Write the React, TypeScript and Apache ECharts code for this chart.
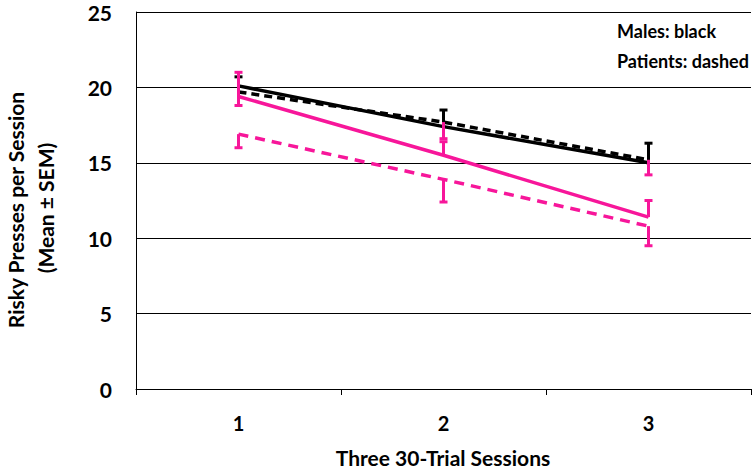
import React, { useEffect, useRef } from "react";
import * as echarts from "echarts";

const sessions = ["1", "2", "3"];
const yTicks = [0, 5, 10, 15, 20, 25];

// Means
const malesControl = [20.1, 17.4, 15.0]; // black solid
const malesPatients = [19.7, 17.7, 15.2]; // black dashed
const femalesControl = [19.4, 15.5, 11.4]; // pink solid
const femalesPatients = [16.9, 13.9, 10.8]; // pink dashed

// SEM (one-sided bars, as drawn)
const malesControlSem = [0.6, 1.1, 1.3]; // upward
const malesPatientsSem = [0.9, 1.1, 1.0]; // downward
const femalesControlSem = [1.6, 0.9, 1.1]; // upward
const femalesPatientsSem = [0.9, 1.5, 1.3]; // downward

const legendLines = ["Males: black", "Patients: dashed"];
const yTitle = ["Risky Presses per Session", "(Mean ± SEM)"];
const xTitle = "Three 30-Trial Sessions";

const BLACK = "#000000";
const PINK = "#f7169a";
const FONT = "Lato, 'Open Sans', sans-serif";

function barData(means: number[], sem: number[], dir: number) {
  return means.map((m, i) => [i, m, +(m + dir * sem[i]).toFixed(2)]);
}

function errorSeries(data: number[][], color: string, z: number) {
  return {
    type: "custom",
    z,
    data,
    renderItem: (params: any, api: any) => {
      const x = api.value(0);
      const from = api.coord([x, api.value(1)]);
      const to = api.coord([x, api.value(2)]);
      const cap = 4;
      return {
        type: "group",
        children: [
          {
            type: "line",
            shape: { x1: from[0], y1: from[1], x2: to[0], y2: to[1] },
            style: { stroke: color, lineWidth: 3 },
          },
          {
            type: "line",
            shape: { x1: to[0] - cap, y1: to[1], x2: to[0] + cap, y2: to[1] },
            style: { stroke: color, lineWidth: 3 },
          },
        ],
      };
    },
  };
}

function lineSeries(name: string, data: number[], color: string, dash: number[] | null, z: number) {
  return {
    name,
    type: "line",
    z,
    data,
    symbol: "none",
    lineStyle: {
      color,
      width: 3.5,
      type: dash ? dash : "solid",
    },
  };
}

export default function App() {
  const ref = useRef<HTMLDivElement>(null);
  useEffect(() => {
    document.body.style.margin = "0";
    const chart = echarts.init(ref.current!, null, { renderer: "svg" });
    chart.setOption({
      animation: false,
      backgroundColor: "#ffffff",
      grid: { left: 136, right: 2, top: 12, bottom: 81 },
      xAxis: {
        type: "category",
        data: sessions,
        boundaryGap: true,
        axisLine: { show: true, lineStyle: { color: "#000", width: 1 } },
        axisTick: { show: true, length: 6, lineStyle: { color: "#000", width: 1 } },
        axisLabel: {
          margin: 24,
          fontFamily: FONT,
          fontWeight: "bold",
          fontSize: 20,
          color: "#000",
        },
        splitLine: { show: false },
      },
      yAxis: {
        type: "value",
        min: yTicks[0],
        max: yTicks[yTicks.length - 1],
        interval: 5,
        axisLine: { show: true, lineStyle: { color: "#000", width: 1 } },
        axisTick: { show: false },
        axisLabel: {
          margin: 24,
          fontFamily: FONT,
          fontWeight: "bold",
          fontSize: 21,
          color: "#000",
        },
        splitLine: { show: true, lineStyle: { color: "#000", width: 1 } },
      },
      series: [
        lineSeries("Males control", malesControl, BLACK, null, 3),
        lineSeries("Males patients", malesPatients, BLACK, [8, 5], 3),
        errorSeries(barData(malesControl, malesControlSem, 1), BLACK, 4),
        errorSeries(barData(malesPatients, malesPatientsSem, -1), PINK, 4),
        lineSeries("Females control", femalesControl, PINK, null, 5),
        lineSeries("Females patients", femalesPatients, PINK, [10, 7], 5),
        errorSeries(barData(femalesControl, femalesControlSem, 1), PINK, 6),
        errorSeries(barData(femalesPatients, femalesPatientsSem, -1), PINK, 6),
      ],
      graphic: [
        {
          type: "text",
          x: 15,
          y: 210,
          rotation: Math.PI / 2,
          style: {
            text: yTitle[0],
            align: "center",
            verticalAlign: "middle",
            font: `bold 21px ${FONT}`,
            fill: "#000",
          },
        },
        {
          type: "text",
          x: 45,
          y: 208,
          rotation: Math.PI / 2,
          style: {
            text: yTitle[1],
            align: "center",
            verticalAlign: "middle",
            font: `bold 21px ${FONT}`,
            fill: "#000",
          },
        },
        {
          type: "text",
          x: 443,
          y: 457,
          style: {
            text: xTitle,
            align: "center",
            verticalAlign: "middle",
            font: `bold 21px ${FONT}`,
            fill: "#000",
          },
        },
        {
          type: "text",
          x: 617,
          y: 31,
          style: {
            text: legendLines[0],
            align: "left",
            verticalAlign: "middle",
            font: `bold 18px ${FONT}`,
            fill: "#000",
          },
        },
        {
          type: "text",
          x: 617,
          y: 61,
          style: {
            text: legendLines[1],
            align: "left",
            verticalAlign: "middle",
            font: `bold 18px ${FONT}`,
            fill: "#000",
          },
        },
      ],
    });
    return () => chart.dispose();
  }, []);
  return <div ref={ref} style={{ width: 753, height: 470 }} />;
}
